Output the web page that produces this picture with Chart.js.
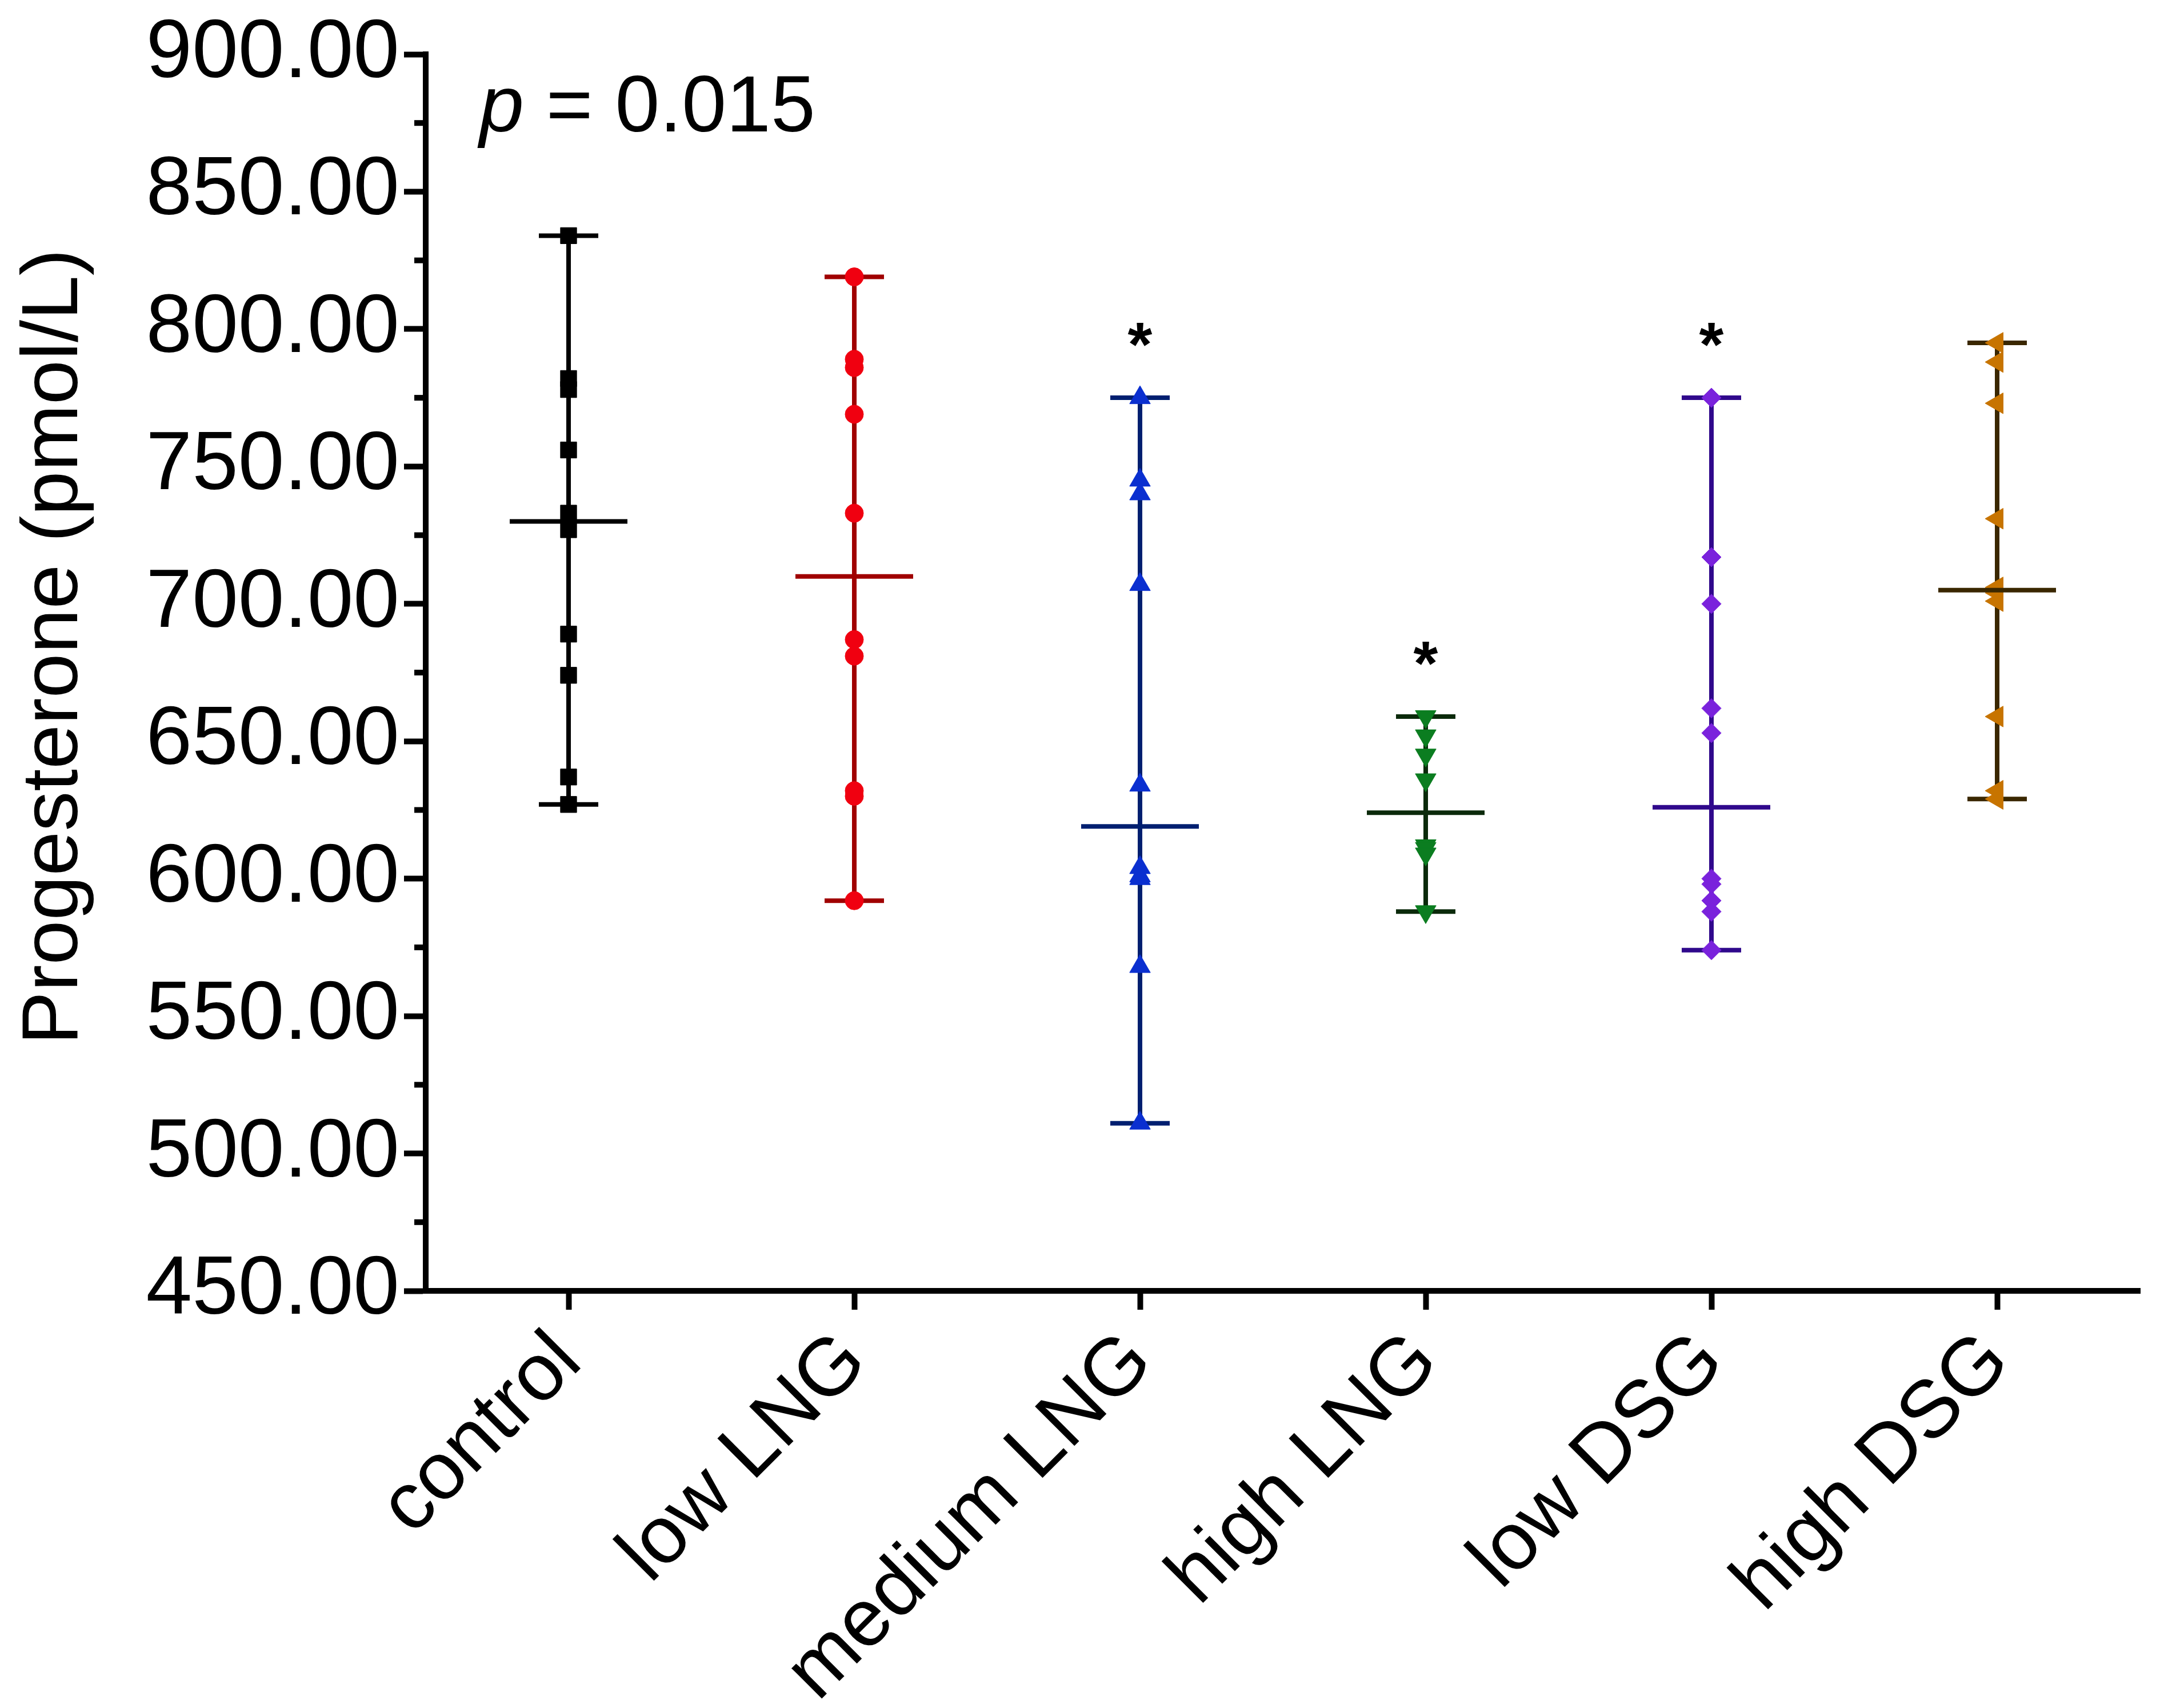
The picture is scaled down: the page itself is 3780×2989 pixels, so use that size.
<!DOCTYPE html>
<html>
<head>
<meta charset="utf-8">
<script src="https://cdn.jsdelivr.net/npm/chart.js@4.4.1/dist/chart.umd.min.js"></script>
<style>
  html, body { margin: 0; padding: 0; background: #fff; }
  canvas { display: block; }
</style>
</head>
<body>
<canvas id="grafico" width="3780" height="2989"></canvas>
<script>
// Grupos e valores de progesterona (pmol/L)
const grupos = ['control', 'low LNG', 'medium LNG', 'high LNG', 'low DSG', 'high DSG'];
const control   = [834, 782, 778, 756, 733, 727, 689, 674, 637, 627];
const lowLNG    = [819, 789, 786, 769, 733, 687, 681, 632, 630, 592];
const mediumLNG = [775, 745, 740, 707, 634, 604, 601, 600, 568, 511];
const highLNG   = [659, 652, 645, 636, 612, 611, 609, 588];
const lowDSG    = [775, 717, 700, 662, 653, 600, 598, 592, 588, 574];
const highDSG   = [795, 788, 773, 731, 706, 704, 701, 659, 632, 629];
const medianas  = [730, 710, 619, 624, 626, 705];
const significativos = ['medium LNG', 'high LNG', 'low DSG'];
const yTicks  = [450, 500, 550, 600, 650, 700, 750, 800, 850, 900];
const yMenores = [475, 525, 575, 625, 675, 725, 775, 825, 875];
const tituloY = 'Progesterone (pmol/L)';
const pValor = '0.015';

const series = [control, lowLNG, mediumLNG, highLNG, lowDSG, highDSG];

// Estilo de cada grupo (marcador, cor do ponto, cor das linhas)
const estilos = [
    { forma: 'rect',     rot: 0,   raio: 20, ponto: '#000000', linha: '#000000' },
    { forma: 'circle',   rot: 0,   raio: 16, ponto: '#f00010', linha: '#a00000' },
    { forma: 'triangle', rot: 0,   raio: 21, ponto: '#0a2fd0', linha: '#001f70' },
    { forma: 'triangle', rot: 180, raio: 21, ponto: '#0b7d20', linha: '#0b2a0b' },
    { forma: 'rectRot',  rot: 0,   raio: 17, ponto: '#7a22dc', linha: '#30098c' },
    { forma: 'triangle', rot: -90, raio: 21, ponto: '#c77400', linha: '#3a2700' }
];

const fonte = '"Liberation Sans", Arial, sans-serif';

const barrasPlugin = {
    id: 'barras',
    beforeDatasetsDraw(chart) {
        const { ctx, scales: { x, y } } = chart;
        series.forEach((valores, i) => {
            const cx = x.getPixelForValue(i);
            const topo = y.getPixelForValue(Math.max(...valores));
            const base = y.getPixelForValue(Math.min(...valores));
            ctx.save();
            ctx.strokeStyle = estilos[i].linha;
            ctx.lineWidth = 8;
            ctx.lineCap = 'butt';
            ctx.beginPath();
            ctx.moveTo(cx, topo); ctx.lineTo(cx, base);
            ctx.moveTo(cx - 52, topo); ctx.lineTo(cx + 52, topo);
            ctx.moveTo(cx - 52, base); ctx.lineTo(cx + 52, base);
            ctx.stroke();
            ctx.restore();
        });
    },
    afterDatasetsDraw(chart) {
        const { ctx, scales: { x, y } } = chart;
        // linha da mediana
        medianas.forEach((m, i) => {
            const cx = x.getPixelForValue(i);
            const py = y.getPixelForValue(m);
            ctx.save();
            ctx.strokeStyle = estilos[i].linha;
            ctx.lineWidth = 8;
            ctx.beginPath();
            ctx.moveTo(cx - 103, py); ctx.lineTo(cx + 103, py);
            ctx.stroke();
            ctx.restore();
        });
        // asteriscos de significância
        significativos.forEach(g => {
            const i = grupos.indexOf(g);
            const cx = x.getPixelForValue(i);
            const py = y.getPixelForValue(Math.max(...series[i]) + 25);
            ctx.save();
            ctx.fillStyle = '#000';
            ctx.font = 'bold 110px ' + fonte;
            ctx.textAlign = 'center';
            ctx.textBaseline = 'alphabetic';
            ctx.fillText('*', cx, py + 64);
            ctx.restore();
        });
    },
    afterDraw(chart) {
        const { ctx, chartArea, scales: { y } } = chart;
        // ticks menores do eixo y
        ctx.save();
        ctx.strokeStyle = '#000';
        ctx.lineWidth = 10;
        yMenores.forEach(v => {
            const py = y.getPixelForValue(v);
            ctx.beginPath();
            ctx.moveTo(chartArea.left - 20, py);
            ctx.lineTo(chartArea.left, py);
            ctx.stroke();
        });
        ctx.restore();
        // título do eixo y (um pouco acima do centro, como no original)
        ctx.save();
        ctx.fillStyle = '#000';
        ctx.font = '140px ' + fonte;
        ctx.textAlign = 'center';
        ctx.textBaseline = 'middle';
        ctx.translate(96, (chartArea.top + chartArea.bottom) / 2 - 45);
        ctx.rotate(-Math.PI / 2);
        ctx.fillText(tituloY, 0, 0);
        ctx.restore();
        // texto do valor p
        ctx.save();
        ctx.fillStyle = '#000';
        ctx.textBaseline = 'alphabetic';
        const px = chartArea.left + 94;
        const py = chartArea.top + 135;
        ctx.font = 'italic 140px ' + fonte;
        ctx.fillText('p', px, py);
        const w = ctx.measureText('p').width;
        ctx.font = '140px ' + fonte;
        ctx.fillText(' = ' + pValor, px + w, py);
        ctx.restore();
    }
};

const datasets = series.map((valores, i) => ({
    label: grupos[i],
    data: valores.map(v => ({ x: grupos[i], y: v })),
    showLine: false,
    pointStyle: estilos[i].forma,
    pointRotation: estilos[i].rot,
    pointRadius: estilos[i].raio,
    pointHoverRadius: estilos[i].raio,
    pointBackgroundColor: estilos[i].ponto,
    pointBorderColor: estilos[i].ponto,
    pointBorderWidth: 1
}));

new Chart(document.getElementById('grafico'), {
    type: 'line',
    data: { labels: grupos, datasets: datasets },
    options: {
        responsive: false,
        animation: false,
        devicePixelRatio: 1,
        layout: { padding: { top: 87, right: 35, left: 0, bottom: 0 } },
        plugins: {
            legend: { display: false },
            tooltip: { enabled: false }
        },
        scales: {
            x: {
                type: 'category',
                offset: true,
                grid: {
                    offset: false,
                    drawOnChartArea: false,
                    drawTicks: true,
                    tickLength: 33,
                    tickWidth: 10,
                    tickColor: '#000'
                },
                border: { color: '#000', width: 10 },
                ticks: {
                    color: '#000',
                    autoSkip: false,
                    minRotation: 45,
                    maxRotation: 45,
                    padding: 8,
                    font: { family: fonte, size: 142 }
                },
                afterFit(scale) { scale.height = 730; }
            },
            y: {
                min: 450,
                max: 900,
                afterBuildTicks(scale) {
                    scale.ticks = yTicks.map(v => ({ value: v }));
                },
                grid: {
                    drawOnChartArea: false,
                    drawTicks: true,
                    tickLength: 38,
                    tickWidth: 10,
                    tickColor: '#000'
                },
                border: { color: '#000', width: 10 },
                ticks: {
                    color: '#000',
                    padding: 8,
                    font: { family: fonte, size: 145 },
                    callback: v => Number(v).toFixed(2)
                },
                title: { display: false },
                afterFit(scale) { scale.width = 745; }
            }
        }
    },
    plugins: [barrasPlugin]
});
</script>
</body>
</html>
